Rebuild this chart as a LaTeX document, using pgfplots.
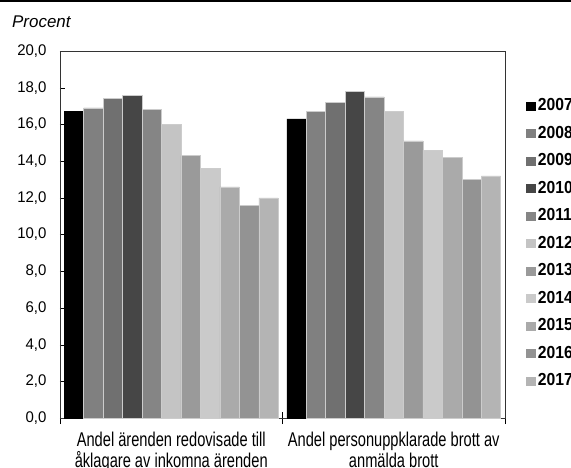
\documentclass[border=0pt]{standalone}
\usepackage{pgfplots}
\pgfplotsset{compat=1.18}
\usepackage{fontspec}
\setmainfont{Liberation Sans}
\newfontfamily\cond{Liberation Sans}[FakeStretch=0.735]
\newfontfamily\tickf{Liberation Sans}[FakeStretch=0.97]
\newfontfamily\legf{Liberation Sans}[FakeStretch=0.9]
\definecolor{c07}{HTML}{000000}
\definecolor{c08}{HTML}{808080}
\definecolor{c09}{HTML}{707070}
\definecolor{c10}{HTML}{464646}
\definecolor{c11}{HTML}{858585}
\definecolor{c12}{HTML}{C4C4C4}
\definecolor{c13}{HTML}{9A9A9A}
\definecolor{c14}{HTML}{CACACA}
\definecolor{c15}{HTML}{AAAAAA}
\definecolor{c16}{HTML}{939393}
\definecolor{c17}{HTML}{B4B4B4}
\begin{document}
\begin{tikzpicture}
\path[use as bounding box] (-60bp,-50bp) rectangle (511bp,418bp);
\draw[line width=2bp] (-60bp,417bp) -- (511bp,417bp);
\node[anchor=base west, inner sep=0pt, font=\itshape\fontsize{17}{20}\selectfont] at (-48bp,390bp) {Procent};
\begin{axis}[at={(0,0)}, anchor=south west, scale only axis,
  width=445bp, height=367bp,
  ybar=0pt, bar width=0.0874,
  xmin=-0.5, xmax=1.5, ymin=0, ymax=20,
  ytick={0,2,4,6,8,10,12,14,16,18,20},
  xtick={0,1},
  xticklabels={Andel ärenden redovisade till\\åklagare av inkomna ärenden, Andel personuppklarade brott av\\anmälda brott},
  minor xtick={-0.5,0.5,1.5},
  major x tick style={draw=none},
  minor x tick style={black},
  xtick align=center, ytick align=inside,
  xtick pos=bottom, ytick pos=left,
  major tick length=5bp, minor tick length=12bp,
  ytick style={black},
  axis line style={black!80},
  /pgf/number format/.cd, fixed, fixed zerofill, precision=1, use comma, assume math mode=true,
  /pgfplots/.cd,
  yticklabel style={font=\tickf\fontsize{15.5}{18}\selectfont, xshift=-10bp},
  xticklabel style={align=center, font=\cond\fontsize{20}{21}\selectfont, yshift=-8bp},
  legend style={draw=none, fill=none, at={(1.0465,0.8725)}, anchor=north west,
    font=\legf\bfseries\fontsize{17.5}{20}\selectfont, row sep=14.5bp, column sep=2bp, inner sep=0pt,
    nodes={inner sep=0pt, text height=13bp, text depth=0pt}},
  legend cell align=left,
  legend image code/.code={\fill[#1,draw=none] (0bp,-6.5bp) rectangle (10bp,2.5bp);},
  every axis plot/.append style={draw=white!80!black, line width=0.5bp},
]
\addplot[fill=c07, draw=black] coordinates {(0,16.7) (1,16.3)};
\addplot[fill=c08] coordinates {(0,16.9) (1,16.7)};
\addplot[fill=c09] coordinates {(0,17.4) (1,17.2)};
\addplot[fill=c10] coordinates {(0,17.6) (1,17.8)};
\addplot[fill=c11] coordinates {(0,16.8) (1,17.5)};
\addplot[fill=c12] coordinates {(0,16.0) (1,16.7)};
\addplot[fill=c13] coordinates {(0,14.3) (1,15.1)};
\addplot[fill=c14] coordinates {(0,13.6) (1,14.6)};
\addplot[fill=c15] coordinates {(0,12.6) (1,14.2)};
\addplot[fill=c16] coordinates {(0,11.6) (1,13.0)};
\addplot[fill=c17] coordinates {(0,12.0) (1,13.2)};
\legend{2007,2008,2009,2010,2011,2012,2013,2014,2015,2016,2017}
\end{axis}
\end{tikzpicture}
\end{document}
